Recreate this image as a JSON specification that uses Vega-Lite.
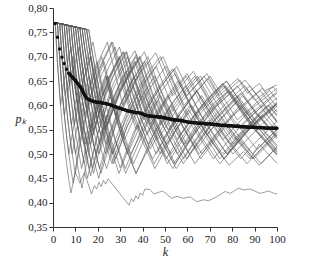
{
"$schema":"https://vega.github.io/schema/vega-lite/v6.json",
"width":224,"height":219,"autosize":"none",
"padding":{"left":53,"top":8,"right":47,"bottom":33},
"background":"white",
"config":{"view":{"stroke":null},"axis":{"labelFont":"Liberation Serif","titleFont":"Liberation Serif","labelColor":"#222","domainColor":"#333","tickColor":"#333","grid":false,"labelFontSize":11}},
"datasets":{
"g":[
{"s":1,"k":1,"p":0.770},{"s":1,"k":2,"p":0.688},{"s":1,"k":3,"p":0.622},{"s":1,"k":4,"p":0.567},{"s":1,"k":5,"p":0.522},{"s":1,"k":6,"p":0.483},{"s":1,"k":7,"p":0.449},{"s":1,"k":8,"p":0.420},{"s":1,"k":10,"p":0.462},{"s":1,"k":12,"p":0.440},{"s":1,"k":14,"p":0.462},{"s":1,"k":17.2,"p":0.418},{"s":1,"k":18.5,"p":0.435},{"s":1,"k":19.5,"p":0.428},{"s":1,"k":20.5,"p":0.442},{"s":1,"k":21.5,"p":0.433},{"s":1,"k":22.5,"p":0.446},{"s":1,"k":23.5,"p":0.438},{"s":1,"k":24.6,"p":0.449},{"s":1,"k":33.9,"p":0.395},{"s":1,"k":35,"p":0.408},{"s":1,"k":36,"p":0.402},{"s":1,"k":37,"p":0.414},{"s":1,"k":38,"p":0.408},{"s":1,"k":39,"p":0.420},{"s":1,"k":40,"p":0.415},{"s":1,"k":41,"p":0.428},{"s":1,"k":43.3,"p":0.427},{"s":1,"k":45,"p":0.418},{"s":1,"k":47,"p":0.421},{"s":1,"k":49,"p":0.424},{"s":1,"k":53,"p":0.409},{"s":1,"k":55.3,"p":0.413},{"s":1,"k":58.2,"p":0.409},{"s":1,"k":61.2,"p":0.412},{"s":1,"k":64.2,"p":0.402},{"s":1,"k":67.2,"p":0.406},{"s":1,"k":69.4,"p":0.404},{"s":1,"k":73.1,"p":0.412},{"s":1,"k":76.9,"p":0.423},{"s":1,"k":79.1,"p":0.419},{"s":1,"k":82.8,"p":0.430},{"s":1,"k":85,"p":0.426},{"s":1,"k":88,"p":0.428},{"s":1,"k":92.5,"p":0.419},{"s":1,"k":96.2,"p":0.424},{"s":1,"k":99.2,"p":0.418},{"s":1,"k":100,"p":0.419},
{"s":2,"k":1,"p":0.770},{"s":2,"k":2,"p":0.688},{"s":2,"k":3.38,"p":0.600},{"s":2,"k":5,"p":0.652},{"s":2,"k":8,"p":0.720},{"s":2,"k":10,"p":0.637},{"s":2,"k":12,"p":0.572},{"s":2,"k":14.8,"p":0.500},{"s":2,"k":20,"p":0.595},{"s":2,"k":25,"p":0.658},{"s":2,"k":29.6,"p":0.700},{"s":2,"k":35,"p":0.610},{"s":2,"k":42.4,"p":0.520},{"s":2,"k":50,"p":0.584},{"s":2,"k":59,"p":0.640},{"s":2,"k":68,"p":0.563},{"s":2,"k":77.5,"p":0.500},{"s":2,"k":85,"p":0.540},{"s":2,"k":93.7,"p":0.580},{"s":2,"k":100,"p":0.546},
{"s":3,"k":1,"p":0.770},{"s":3,"k":2,"p":0.769},{"s":3,"k":3,"p":0.695},{"s":3,"k":4,"p":0.634},{"s":3,"k":5,"p":0.583},{"s":3,"k":6,"p":0.539},{"s":3,"k":7,"p":0.502},{"s":3,"k":8,"p":0.469},{"s":3,"k":9.03,"p":0.440},{"s":3,"k":12,"p":0.526},{"s":3,"k":15,"p":0.589},{"s":3,"k":18,"p":0.638},{"s":3,"k":22,"p":0.687},{"s":3,"k":26.7,"p":0.730},{"s":3,"k":30,"p":0.665},{"s":3,"k":35,"p":0.587},{"s":3,"k":40,"p":0.525},{"s":3,"k":45.5,"p":0.470},{"s":3,"k":55,"p":0.550},{"s":3,"k":66.4,"p":0.620},{"s":3,"k":80.6,"p":0.520},{"s":3,"k":90,"p":0.566},{"s":3,"k":100,"p":0.607},
{"s":4,"k":1,"p":0.770},{"s":4,"k":2,"p":0.769},{"s":4,"k":3,"p":0.695},{"s":4,"k":4,"p":0.634},{"s":4,"k":5.06,"p":0.580},{"s":4,"k":7,"p":0.637},{"s":4,"k":8.95,"p":0.680},{"s":4,"k":11,"p":0.604},{"s":4,"k":13,"p":0.545},{"s":4,"k":16.26,"p":0.470},{"s":4,"k":20,"p":0.542},{"s":4,"k":25,"p":0.613},{"s":4,"k":30,"p":0.665},{"s":4,"k":36.6,"p":0.712},{"s":4,"k":42,"p":0.637},{"s":4,"k":48,"p":0.568},{"s":4,"k":55.5,"p":0.500},{"s":4,"k":63,"p":0.553},{"s":4,"k":71.2,"p":0.600},{"s":4,"k":80,"p":0.540},{"s":4,"k":88.9,"p":0.490},{"s":4,"k":100,"p":0.543},
{"s":5,"k":1,"p":0.770},{"s":5,"k":3,"p":0.768},{"s":5,"k":4,"p":0.701},{"s":5,"k":5,"p":0.644},{"s":5,"k":6,"p":0.596},{"s":5,"k":7,"p":0.555},{"s":5,"k":8,"p":0.519},{"s":5,"k":9,"p":0.487},{"s":5,"k":9.96,"p":0.460},{"s":5,"k":12,"p":0.517},{"s":5,"k":15,"p":0.582},{"s":5,"k":18,"p":0.631},{"s":5,"k":22.8,"p":0.690},{"s":5,"k":27,"p":0.607},{"s":5,"k":32,"p":0.530},{"s":5,"k":38,"p":0.593},{"s":5,"k":44,"p":0.640},{"s":5,"k":50.4,"p":0.680},{"s":5,"k":58,"p":0.601},{"s":5,"k":66,"p":0.536},{"s":5,"k":74.5,"p":0.480},{"s":5,"k":87,"p":0.549},{"s":5,"k":100,"p":0.603},
{"s":6,"k":1,"p":0.770},{"s":6,"k":3,"p":0.768},{"s":6,"k":4,"p":0.701},{"s":6,"k":5.48,"p":0.620},{"s":6,"k":8.9,"p":0.700},{"s":6,"k":11,"p":0.621},{"s":6,"k":13,"p":0.560},{"s":6,"k":14.56,"p":0.520},{"s":6,"k":19,"p":0.601},{"s":6,"k":23.6,"p":0.660},{"s":6,"k":28,"p":0.578},{"s":6,"k":33,"p":0.506},{"s":6,"k":37.1,"p":0.460},{"s":6,"k":45,"p":0.542},{"s":6,"k":54,"p":0.609},{"s":6,"k":63.2,"p":0.660},{"s":6,"k":72,"p":0.587},{"s":6,"k":80.6,"p":0.530},{"s":6,"k":96,"p":0.600},{"s":6,"k":100,"p":0.578},
{"s":7,"k":1,"p":0.770},{"s":7,"k":4,"p":0.767},{"s":7,"k":5,"p":0.705},{"s":7,"k":6,"p":0.653},{"s":7,"k":7,"p":0.607},{"s":7,"k":8,"p":0.568},{"s":7,"k":9,"p":0.533},{"s":7,"k":10,"p":0.503},{"s":7,"k":11,"p":0.475},{"s":7,"k":12,"p":0.451},{"s":7,"k":12.93,"p":0.430},{"s":7,"k":15,"p":0.483},{"s":7,"k":18,"p":0.544},{"s":7,"k":21,"p":0.592},{"s":7,"k":25,"p":0.642},{"s":7,"k":29,"p":0.682},{"s":7,"k":32.6,"p":0.710},{"s":7,"k":38,"p":0.625},{"s":7,"k":43,"p":0.563},{"s":7,"k":50.5,"p":0.490},{"s":7,"k":60,"p":0.562},{"s":7,"k":68,"p":0.608},{"s":7,"k":75.8,"p":0.645},{"s":7,"k":90,"p":0.551},{"s":7,"k":100,"p":0.500},
{"s":8,"k":1,"p":0.770},{"s":8,"k":4,"p":0.767},{"s":8,"k":5,"p":0.705},{"s":8,"k":6,"p":0.653},{"s":8,"k":7,"p":0.607},{"s":8,"k":8.21,"p":0.560},{"s":8,"k":10,"p":0.605},{"s":8,"k":12.8,"p":0.660},{"s":8,"k":16,"p":0.570},{"s":8,"k":19.3,"p":0.500},{"s":8,"k":24,"p":0.575},{"s":8,"k":30,"p":0.644},{"s":8,"k":37.05,"p":0.700},{"s":8,"k":42,"p":0.630},{"s":8,"k":48.2,"p":0.560},{"s":8,"k":56,"p":0.614},{"s":8,"k":64.5,"p":0.660},{"s":8,"k":72,"p":0.598},{"s":8,"k":82,"p":0.531},{"s":8,"k":92.1,"p":0.477},{"s":8,"k":100,"p":0.515},
{"s":9,"k":1,"p":0.770},{"s":9,"k":5,"p":0.766},{"s":9,"k":6,"p":0.709},{"s":9,"k":7,"p":0.660},{"s":9,"k":8,"p":0.617},{"s":9,"k":9,"p":0.579},{"s":9,"k":10,"p":0.546},{"s":9,"k":11,"p":0.516},{"s":9,"k":12,"p":0.490},{"s":9,"k":12.8,"p":0.470},{"s":9,"k":15,"p":0.522},{"s":9,"k":18,"p":0.578},{"s":9,"k":21,"p":0.623},{"s":9,"k":24.1,"p":0.660},{"s":9,"k":28,"p":0.587},{"s":9,"k":32,"p":0.528},{"s":9,"k":35.9,"p":0.480},{"s":9,"k":42,"p":0.544},{"s":9,"k":50,"p":0.608},{"s":9,"k":55,"p":0.639},{"s":9,"k":59.8,"p":0.665},{"s":9,"k":72,"p":0.563},{"s":9,"k":83.8,"p":0.490},{"s":9,"k":90,"p":0.522},{"s":9,"k":100,"p":0.567},
{"s":10,"k":1,"p":0.770},{"s":10,"k":5,"p":0.766},{"s":10,"k":6,"p":0.709},{"s":10,"k":7.44,"p":0.640},{"s":10,"k":9,"p":0.674},{"s":10,"k":11.7,"p":0.720},{"s":10,"k":15,"p":0.613},{"s":10,"k":18,"p":0.540},{"s":10,"k":22,"p":0.602},{"s":10,"k":27,"p":0.660},{"s":10,"k":32.9,"p":0.710},{"s":10,"k":38,"p":0.631},{"s":10,"k":44,"p":0.557},{"s":10,"k":49,"p":0.508},{"s":10,"k":53.5,"p":0.470},{"s":10,"k":62,"p":0.535},{"s":10,"k":72,"p":0.593},{"s":10,"k":82.3,"p":0.640},{"s":10,"k":91,"p":0.583},{"s":10,"k":100,"p":0.535},
{"s":11,"k":1,"p":0.770},{"s":11,"k":6,"p":0.765},{"s":11,"k":7,"p":0.712},{"s":11,"k":8,"p":0.666},{"s":11,"k":9,"p":0.625},{"s":11,"k":10,"p":0.589},{"s":11,"k":11,"p":0.557},{"s":11,"k":12,"p":0.528},{"s":11,"k":13,"p":0.503},{"s":11,"k":13.96,"p":0.480},{"s":11,"k":17,"p":0.545},{"s":11,"k":20,"p":0.595},{"s":11,"k":25,"p":0.657},{"s":11,"k":29.6,"p":0.700},{"s":11,"k":36,"p":0.597},{"s":11,"k":43.4,"p":0.510},{"s":11,"k":52,"p":0.581},{"s":11,"k":61,"p":0.636},{"s":11,"k":65.8,"p":0.660},{"s":11,"k":78,"p":0.566},{"s":11,"k":89.2,"p":0.500},{"s":11,"k":100,"p":0.550},
{"s":12,"k":1,"p":0.770},{"s":12,"k":6,"p":0.765},{"s":12,"k":7,"p":0.712},{"s":12,"k":8,"p":0.666},{"s":12,"k":9,"p":0.625},{"s":12,"k":10,"p":0.589},{"s":12,"k":11.24,"p":0.550},{"s":12,"k":15,"p":0.626},{"s":12,"k":19.66,"p":0.690},{"s":12,"k":24,"p":0.595},{"s":12,"k":28,"p":0.527},{"s":12,"k":32.3,"p":0.470},{"s":12,"k":40,"p":0.556},{"s":12,"k":46.6,"p":0.610},{"s":12,"k":53,"p":0.545},{"s":12,"k":59.8,"p":0.490},{"s":12,"k":72,"p":0.568},{"s":12,"k":87.8,"p":0.640},{"s":12,"k":100,"p":0.567},
{"s":13,"k":1,"p":0.770},{"s":13,"k":7,"p":0.764},{"s":13,"k":8,"p":0.714},{"s":13,"k":9,"p":0.671},{"s":13,"k":10,"p":0.632},{"s":13,"k":11,"p":0.598},{"s":13,"k":12,"p":0.567},{"s":13,"k":13,"p":0.539},{"s":13,"k":14,"p":0.514},{"s":13,"k":15,"p":0.491},{"s":13,"k":16.8,"p":0.455},{"s":13,"k":20,"p":0.519},{"s":13,"k":25,"p":0.593},{"s":13,"k":30,"p":0.648},{"s":13,"k":37.3,"p":0.705},{"s":13,"k":42,"p":0.638},{"s":13,"k":48,"p":0.569},{"s":13,"k":53,"p":0.522},{"s":13,"k":58.2,"p":0.480},{"s":13,"k":66,"p":0.535},{"s":13,"k":74,"p":0.581},{"s":13,"k":82.4,"p":0.620},{"s":13,"k":91,"p":0.566},{"s":13,"k":100,"p":0.518},
{"s":14,"k":1,"p":0.770},{"s":14,"k":7,"p":0.764},{"s":14,"k":8,"p":0.714},{"s":14,"k":9,"p":0.671},{"s":14,"k":10,"p":0.632},{"s":14,"k":10.94,"p":0.600},{"s":14,"k":14,"p":0.657},{"s":14,"k":17.05,"p":0.700},{"s":14,"k":20,"p":0.625},{"s":14,"k":23,"p":0.563},{"s":14,"k":26.8,"p":0.500},{"s":14,"k":32,"p":0.565},{"s":14,"k":38,"p":0.623},{"s":14,"k":46.1,"p":0.680},{"s":14,"k":52,"p":0.612},{"s":14,"k":58,"p":0.556},{"s":14,"k":65.3,"p":0.500},{"s":14,"k":83.5,"p":0.600},{"s":14,"k":100,"p":0.508},
{"s":15,"k":1,"p":0.770},{"s":15,"k":8,"p":0.763},{"s":15,"k":9,"p":0.716},{"s":15,"k":10,"p":0.675},{"s":15,"k":11,"p":0.639},{"s":15,"k":12,"p":0.606},{"s":15,"k":13,"p":0.576},{"s":15,"k":14,"p":0.549},{"s":15,"k":15,"p":0.525},{"s":15,"k":16,"p":0.502},{"s":15,"k":17,"p":0.482},{"s":15,"k":18.1,"p":0.460},{"s":15,"k":22,"p":0.531},{"s":15,"k":26,"p":0.587},{"s":15,"k":30,"p":0.631},{"s":15,"k":34,"p":0.667},{"s":15,"k":38.6,"p":0.700},{"s":15,"k":44,"p":0.626},{"s":15,"k":50,"p":0.561},{"s":15,"k":58.3,"p":0.490},{"s":15,"k":68,"p":0.556},{"s":15,"k":77,"p":0.603},{"s":15,"k":85.6,"p":0.640},{"s":15,"k":100,"p":0.554},
{"s":16,"k":1,"p":0.770},{"s":16,"k":8,"p":0.763},{"s":16,"k":9,"p":0.716},{"s":16,"k":10,"p":0.675},{"s":16,"k":11,"p":0.639},{"s":16,"k":12,"p":0.606},{"s":16,"k":13,"p":0.576},{"s":16,"k":14,"p":0.549},{"s":16,"k":15.2,"p":0.520},{"s":16,"k":20,"p":0.604},{"s":16,"k":24.5,"p":0.660},{"s":16,"k":30,"p":0.563},{"s":16,"k":34.7,"p":0.500},{"s":16,"k":48,"p":0.620},{"s":16,"k":58.65,"p":0.520},{"s":16,"k":68,"p":0.580},{"s":16,"k":78.3,"p":0.630},{"s":16,"k":90,"p":0.554},{"s":16,"k":100,"p":0.503},
{"s":17,"k":1,"p":0.770},{"s":17,"k":9,"p":0.762},{"s":17,"k":10,"p":0.718},{"s":17,"k":11,"p":0.679},{"s":17,"k":12,"p":0.644},{"s":17,"k":13,"p":0.613},{"s":17,"k":14,"p":0.584},{"s":17,"k":16,"p":0.534},{"s":17,"k":18,"p":0.492},{"s":17,"k":20.4,"p":0.450},{"s":17,"k":25,"p":0.529},{"s":17,"k":30,"p":0.592},{"s":17,"k":35,"p":0.640},{"s":17,"k":41.9,"p":0.690},{"s":17,"k":48,"p":0.614},{"s":17,"k":55,"p":0.545},{"s":17,"k":63.4,"p":0.480},{"s":17,"k":74,"p":0.548},{"s":17,"k":84.6,"p":0.600},{"s":17,"k":100,"p":0.514},
{"s":18,"k":1,"p":0.770},{"s":18,"k":10,"p":0.761},{"s":18,"k":11,"p":0.720},{"s":18,"k":12,"p":0.683},{"s":18,"k":13,"p":0.649},{"s":18,"k":14,"p":0.619},{"s":18,"k":16,"p":0.566},{"s":18,"k":18,"p":0.521},{"s":18,"k":20.8,"p":0.470},{"s":18,"k":25,"p":0.539},{"s":18,"k":30,"p":0.601},{"s":18,"k":36,"p":0.656},{"s":18,"k":42.4,"p":0.700},{"s":18,"k":50,"p":0.607},{"s":18,"k":59.6,"p":0.520},{"s":18,"k":72,"p":0.595},{"s":18,"k":85.8,"p":0.652},{"s":18,"k":100,"p":0.568},
{"s":19,"k":1,"p":0.770},{"s":19,"k":11,"p":0.760},{"s":19,"k":12,"p":0.721},{"s":19,"k":13,"p":0.685},{"s":19,"k":14,"p":0.653},{"s":19,"k":16,"p":0.598},{"s":19,"k":18,"p":0.551},{"s":19,"k":20.6,"p":0.500},{"s":19,"k":25,"p":0.568},{"s":19,"k":30,"p":0.626},{"s":19,"k":35,"p":0.670},{"s":19,"k":40.8,"p":0.710},{"s":19,"k":48,"p":0.618},{"s":19,"k":55,"p":0.548},{"s":19,"k":61,"p":0.500},{"s":19,"k":72,"p":0.569},{"s":19,"k":83.8,"p":0.625},{"s":19,"k":100,"p":0.531},
{"s":20,"k":1,"p":0.770},{"s":20,"k":12,"p":0.759},{"s":20,"k":13,"p":0.722},{"s":20,"k":14,"p":0.688},{"s":20,"k":16,"p":0.629},{"s":20,"k":18,"p":0.580},{"s":20,"k":20,"p":0.537},{"s":20,"k":22,"p":0.501},{"s":20,"k":23.9,"p":0.470},{"s":20,"k":28,"p":0.531},{"s":20,"k":33,"p":0.589},{"s":20,"k":38,"p":0.634},{"s":20,"k":43,"p":0.671},{"s":20,"k":47.9,"p":0.700},{"s":20,"k":55,"p":0.620},{"s":20,"k":62,"p":0.558},{"s":20,"k":71.6,"p":0.490},{"s":20,"k":85,"p":0.564},{"s":20,"k":100,"p":0.625},
{"s":21,"k":1,"p":0.770},{"s":21,"k":13,"p":0.758},{"s":21,"k":14,"p":0.723},{"s":21,"k":16,"p":0.661},{"s":21,"k":18,"p":0.609},{"s":21,"k":20,"p":0.564},{"s":21,"k":23.5,"p":0.500},{"s":21,"k":30,"p":0.586},{"s":21,"k":38.1,"p":0.660},{"s":21,"k":45,"p":0.573},{"s":21,"k":52.7,"p":0.500},{"s":21,"k":65,"p":0.585},{"s":21,"k":76,"p":0.640},{"s":21,"k":88,"p":0.560},{"s":21,"k":100,"p":0.497},
{"s":22,"k":1,"p":0.770},{"s":22,"k":14,"p":0.757},{"s":22,"k":15,"p":0.723},{"s":22,"k":17,"p":0.664},{"s":22,"k":20,"p":0.591},{"s":22,"k":23.75,"p":0.520},{"s":22,"k":30,"p":0.600},{"s":22,"k":35,"p":0.647},{"s":22,"k":40.8,"p":0.690},{"s":22,"k":48,"p":0.601},{"s":22,"k":55.4,"p":0.530},{"s":22,"k":66,"p":0.598},{"s":22,"k":75.75,"p":0.645},{"s":22,"k":88,"p":0.562},{"s":22,"k":100,"p":0.499},
{"s":23,"k":1,"p":0.770},{"s":23,"k":15,"p":0.756},{"s":23,"k":16,"p":0.724},{"s":23,"k":18,"p":0.667},{"s":23,"k":20,"p":0.618},{"s":23,"k":23.4,"p":0.550},{"s":23,"k":30,"p":0.629},{"s":23,"k":35.9,"p":0.680},{"s":23,"k":42,"p":0.596},{"s":23,"k":48,"p":0.531},{"s":23,"k":53.9,"p":0.480},{"s":23,"k":66,"p":0.566},{"s":23,"k":78.75,"p":0.630},{"s":23,"k":100,"p":0.505},
{"s":24,"k":1,"p":0.770},{"s":24,"k":16,"p":0.755},{"s":24,"k":17,"p":0.724},{"s":24,"k":19,"p":0.669},{"s":24,"k":21,"p":0.622},{"s":24,"k":23,"p":0.581},{"s":24,"k":26,"p":0.529},{"s":24,"k":30,"p":0.472},{"s":24,"k":36,"p":0.545},{"s":24,"k":42,"p":0.600},{"s":24,"k":48,"p":0.643},{"s":24,"k":53.4,"p":0.675},{"s":24,"k":64,"p":0.575},{"s":24,"k":76.4,"p":0.490},{"s":24,"k":88,"p":0.552},{"s":24,"k":100,"p":0.602},
{"s":25,"k":1,"p":0.770},{"s":25,"k":9,"p":0.762},{"s":25,"k":10,"p":0.718},{"s":25,"k":12,"p":0.644},{"s":25,"k":14.15,"p":0.580},{"s":25,"k":20,"p":0.670},{"s":25,"k":26.1,"p":0.730},{"s":25,"k":31,"p":0.637},{"s":25,"k":37.1,"p":0.550},{"s":25,"k":45,"p":0.618},{"s":25,"k":54.2,"p":0.675},{"s":25,"k":59.6,"p":0.620},{"s":25,"k":68.7,"p":0.665},{"s":25,"k":74.2,"p":0.620},{"s":25,"k":82.5,"p":0.655},{"s":25,"k":86.8,"p":0.625},{"s":25,"k":92.1,"p":0.645},{"s":25,"k":94.5,"p":0.630},{"s":25,"k":100,"p":0.642},
{"s":26,"k":1,"p":0.770},{"s":26,"k":11,"p":0.760},{"s":26,"k":12,"p":0.721},{"s":26,"k":13,"p":0.685},{"s":26,"k":15.15,"p":0.620},{"s":26,"k":20,"p":0.687},{"s":26,"k":24.3,"p":0.730},{"s":26,"k":31.2,"p":0.600},{"s":26,"k":38,"p":0.660},{"s":26,"k":45.8,"p":0.708},{"s":26,"k":53.5,"p":0.620},{"s":26,"k":62.7,"p":0.670},{"s":26,"k":70.9,"p":0.600},{"s":26,"k":83.4,"p":0.652},{"s":26,"k":90.1,"p":0.610},{"s":26,"k":98.2,"p":0.638},{"s":26,"k":100,"p":0.629},
{"s":27,"k":1,"p":0.770},{"s":27,"k":13,"p":0.758},{"s":27,"k":14,"p":0.723},{"s":27,"k":16,"p":0.661},{"s":27,"k":19.26,"p":0.580},{"s":27,"k":25,"p":0.654},{"s":27,"k":31.2,"p":0.710},{"s":27,"k":35,"p":0.646},{"s":27,"k":40.7,"p":0.570},{"s":27,"k":48,"p":0.627},{"s":27,"k":54.3,"p":0.665},{"s":27,"k":63.3,"p":0.580},{"s":27,"k":77.5,"p":0.650},{"s":27,"k":84.6,"p":0.600},{"s":27,"k":93.4,"p":0.635},{"s":27,"k":100,"p":0.596},
{"s":28,"k":1,"p":0.770},{"s":28,"k":15,"p":0.756},{"s":28,"k":16,"p":0.724},{"s":28,"k":17,"p":0.694},{"s":28,"k":19.9,"p":0.620},{"s":28,"k":25,"p":0.680},{"s":28,"k":29.7,"p":0.720},{"s":28,"k":35,"p":0.629},{"s":28,"k":42,"p":0.540},{"s":28,"k":50,"p":0.604},{"s":28,"k":59.5,"p":0.660},{"s":28,"k":68,"p":0.586},{"s":28,"k":75.9,"p":0.530},{"s":28,"k":88,"p":0.590},{"s":28,"k":100,"p":0.635},
{"s":29,"k":1,"p":0.770},{"s":29,"k":10,"p":0.761},{"s":29,"k":11,"p":0.720},{"s":29,"k":12.66,"p":0.660},{"s":29,"k":17.86,"p":0.730},{"s":29,"k":22.3,"p":0.620},{"s":29,"k":27,"p":0.672},{"s":29,"k":31.6,"p":0.710},{"s":29,"k":36,"p":0.638},{"s":29,"k":40.3,"p":0.580},{"s":29,"k":48,"p":0.638},{"s":29,"k":55.2,"p":0.680},{"s":29,"k":66,"p":0.580},{"s":29,"k":77.7,"p":0.500},{"s":29,"k":90,"p":0.563},{"s":29,"k":100,"p":0.604},
{"s":30,"k":1,"p":0.770},{"s":30,"k":12,"p":0.759},{"s":30,"k":13,"p":0.722},{"s":30,"k":14,"p":0.688},{"s":30,"k":16,"p":0.629},{"s":30,"k":17.1,"p":0.600},{"s":30,"k":22,"p":0.666},{"s":30,"k":27.65,"p":0.720},{"s":30,"k":33,"p":0.625},{"s":30,"k":39,"p":0.544},{"s":30,"k":45.2,"p":0.480},{"s":30,"k":53,"p":0.545},{"s":30,"k":61,"p":0.600},{"s":30,"k":70,"p":0.530},{"s":30,"k":78.6,"p":0.477},{"s":30,"k":85,"p":0.505},{"s":30,"k":88,"p":0.490},{"s":30,"k":92,"p":0.520},{"s":30,"k":100,"p":0.481},
{"s":31,"k":1,"p":0.770},{"s":31,"k":3,"p":0.768},{"s":31,"k":4,"p":0.701},{"s":31,"k":5,"p":0.644},{"s":31,"k":6,"p":0.596},{"s":31,"k":7,"p":0.555},{"s":31,"k":8.57,"p":0.500},{"s":31,"k":12,"p":0.588},{"s":31,"k":16.1,"p":0.660},{"s":31,"k":20.3,"p":0.560},{"s":31,"k":27,"p":0.646},{"s":31,"k":33.2,"p":0.700},{"s":31,"k":43.35,"p":0.560},{"s":31,"k":51.4,"p":0.620},{"s":31,"k":58,"p":0.557},{"s":31,"k":64.1,"p":0.510},{"s":31,"k":72,"p":0.559},{"s":31,"k":82.4,"p":0.610},{"s":31,"k":90.4,"p":0.560},{"s":31,"k":100,"p":0.599},
{"s":32,"k":1,"p":0.770},{"s":32,"k":5,"p":0.766},{"s":32,"k":6,"p":0.709},{"s":32,"k":7,"p":0.660},{"s":32,"k":8,"p":0.617},{"s":32,"k":9.56,"p":0.560},{"s":32,"k":13.3,"p":0.640},{"s":32,"k":16,"p":0.567},{"s":32,"k":18,"p":0.522},{"s":32,"k":21.4,"p":0.460},{"s":32,"k":28,"p":0.560},{"s":32,"k":35.85,"p":0.640},{"s":32,"k":42,"p":0.560},{"s":32,"k":48,"p":0.500},{"s":32,"k":61.8,"p":0.600},{"s":32,"k":75.6,"p":0.500},{"s":32,"k":91.4,"p":0.580},{"s":32,"k":100,"p":0.534},
{"s":33,"k":1,"p":0.770},{"s":33,"k":7,"p":0.764},{"s":33,"k":8,"p":0.714},{"s":33,"k":9,"p":0.671},{"s":33,"k":10,"p":0.632},{"s":33,"k":11,"p":0.598},{"s":33,"k":12,"p":0.567},{"s":33,"k":13,"p":0.539},{"s":33,"k":13.76,"p":0.520},{"s":33,"k":19.3,"p":0.620},{"s":33,"k":23,"p":0.544},{"s":33,"k":27.1,"p":0.480},{"s":33,"k":33,"p":0.556},{"s":33,"k":39,"p":0.613},{"s":33,"k":45.4,"p":0.660},{"s":33,"k":57.1,"p":0.540},{"s":33,"k":68,"p":0.607},{"s":33,"k":77.4,"p":0.650},{"s":33,"k":87.6,"p":0.580},{"s":33,"k":100,"p":0.628},
{"s":34,"k":1,"p":0.770},{"s":34,"k":9,"p":0.762},{"s":34,"k":10,"p":0.718},{"s":34,"k":11,"p":0.679},{"s":34,"k":12,"p":0.644},{"s":34,"k":13,"p":0.613},{"s":34,"k":14,"p":0.584},{"s":34,"k":16.6,"p":0.520},{"s":34,"k":21.4,"p":0.600},{"s":34,"k":27.9,"p":0.490},{"s":34,"k":33,"p":0.555},{"s":34,"k":39.9,"p":0.620},{"s":34,"k":46,"p":0.549},{"s":34,"k":55,"p":0.470},{"s":34,"k":69.5,"p":0.570},{"s":34,"k":80.3,"p":0.500},{"s":34,"k":100,"p":0.592},
{"s":35,"k":1,"p":0.770},{"s":35,"k":11,"p":0.760},{"s":35,"k":12,"p":0.721},{"s":35,"k":13,"p":0.685},{"s":35,"k":14,"p":0.653},{"s":35,"k":16,"p":0.598},{"s":35,"k":18.03,"p":0.550},{"s":35,"k":24.4,"p":0.640},{"s":35,"k":29,"p":0.559},{"s":35,"k":33.3,"p":0.500},{"s":35,"k":41,"p":0.580},{"s":35,"k":51.1,"p":0.480},{"s":35,"k":64,"p":0.574},{"s":35,"k":77.1,"p":0.640},{"s":35,"k":89.2,"p":0.560},{"s":35,"k":100,"p":0.604},
{"s":36,"k":1,"p":0.770},{"s":36,"k":12,"p":0.759},{"s":36,"k":13,"p":0.722},{"s":36,"k":14,"p":0.688},{"s":36,"k":16,"p":0.629},{"s":36,"k":18,"p":0.580},{"s":36,"k":20.9,"p":0.520},{"s":36,"k":25,"p":0.581},{"s":36,"k":30,"p":0.637},{"s":36,"k":36.4,"p":0.690},{"s":36,"k":43,"p":0.600},{"s":36,"k":50.7,"p":0.520},{"s":36,"k":60.6,"p":0.590},{"s":36,"k":74.5,"p":0.490},{"s":36,"k":92,"p":0.580},{"s":36,"k":100,"p":0.537},
{"s":37,"k":1,"p":0.770},{"s":37,"k":14,"p":0.757},{"s":37,"k":15,"p":0.723},{"s":37,"k":17,"p":0.664},{"s":37,"k":20,"p":0.591},{"s":37,"k":23,"p":0.527},{"s":37,"k":26.35,"p":0.480},{"s":37,"k":33,"p":0.566},{"s":37,"k":40,"p":0.630},{"s":37,"k":48.9,"p":0.530},{"s":37,"k":64.1,"p":0.630},{"s":37,"k":79.2,"p":0.520},{"s":37,"k":96.5,"p":0.600},{"s":37,"k":100,"p":0.580},
{"s":38,"k":1,"p":0.770},{"s":38,"k":16,"p":0.755},{"s":38,"k":17,"p":0.724},{"s":38,"k":19,"p":0.669},{"s":38,"k":21,"p":0.622},{"s":38,"k":24.15,"p":0.560},{"s":38,"k":30,"p":0.629},{"s":38,"k":38.9,"p":0.700},{"s":38,"k":45,"p":0.618},{"s":38,"k":51.5,"p":0.550},{"s":38,"k":64.2,"p":0.630},{"s":38,"k":76,"p":0.541},{"s":38,"k":86.6,"p":0.480},{"s":38,"k":100,"p":0.545},
{"s":39,"k":1,"p":0.770},{"s":39,"k":4,"p":0.767},{"s":39,"k":5,"p":0.705},{"s":39,"k":6,"p":0.653},{"s":39,"k":7,"p":0.607},{"s":39,"k":8,"p":0.568},{"s":39,"k":9,"p":0.533},{"s":39,"k":10.09,"p":0.500},{"s":39,"k":14,"p":0.591},{"s":39,"k":17,"p":0.642},{"s":39,"k":21.75,"p":0.700},{"s":39,"k":27.8,"p":0.580},{"s":39,"k":36.1,"p":0.660},{"s":39,"k":46.8,"p":0.530},{"s":39,"k":57,"p":0.605},{"s":39,"k":67.5,"p":0.660},{"s":39,"k":82.5,"p":0.550},{"s":39,"k":93.7,"p":0.600},{"s":39,"k":100,"p":0.565},
{"s":40,"k":1,"p":0.770},{"s":40,"k":6,"p":0.765},{"s":40,"k":7,"p":0.712},{"s":40,"k":8,"p":0.666},{"s":40,"k":9,"p":0.625},{"s":40,"k":10,"p":0.589},{"s":40,"k":11,"p":0.557},{"s":40,"k":12,"p":0.528},{"s":40,"k":13,"p":0.503},{"s":40,"k":14,"p":0.479},{"s":40,"k":15.38,"p":0.450},{"s":40,"k":20,"p":0.543},{"s":40,"k":25.6,"p":0.620},{"s":40,"k":31,"p":0.532},{"s":40,"k":37,"p":0.460},{"s":40,"k":52.5,"p":0.600},{"s":40,"k":65.9,"p":0.490},{"s":40,"k":77.6,"p":0.560},{"s":40,"k":89.7,"p":0.490},{"s":40,"k":100,"p":0.539},
{"s":41,"k":1,"p":0.770},{"s":41,"k":8,"p":0.763},{"s":41,"k":9,"p":0.716},{"s":41,"k":10,"p":0.675},{"s":41,"k":11,"p":0.639},{"s":41,"k":11.55,"p":0.620},{"s":41,"k":16.6,"p":0.700},{"s":41,"k":20,"p":0.613},{"s":41,"k":23.15,"p":0.550},{"s":41,"k":30,"p":0.632},{"s":41,"k":36.9,"p":0.690},{"s":41,"k":45.3,"p":0.580},{"s":41,"k":55.8,"p":0.650},{"s":41,"k":68.7,"p":0.540},{"s":41,"k":84.7,"p":0.620},{"s":41,"k":91,"p":0.580},{"s":41,"k":100,"p":0.615},
{"s":42,"k":1,"p":0.770},{"s":42,"k":10,"p":0.761},{"s":42,"k":11,"p":0.720},{"s":42,"k":12,"p":0.683},{"s":42,"k":13,"p":0.649},{"s":42,"k":14,"p":0.619},{"s":42,"k":16,"p":0.566},{"s":42,"k":16.7,"p":0.550},{"s":42,"k":20.4,"p":0.610},{"s":42,"k":25,"p":0.523},{"s":42,"k":29.5,"p":0.460},{"s":42,"k":37.9,"p":0.560},{"s":42,"k":44.4,"p":0.490},{"s":42,"k":56,"p":0.583},{"s":42,"k":69.2,"p":0.655},{"s":42,"k":80,"p":0.574},{"s":42,"k":91,"p":0.510},{"s":42,"k":100,"p":0.551},
{"s":43,"k":1,"p":0.770},{"s":43,"k":13,"p":0.758},{"s":43,"k":14,"p":0.723},{"s":43,"k":16,"p":0.661},{"s":43,"k":18,"p":0.609},{"s":43,"k":20,"p":0.564},{"s":43,"k":21.2,"p":0.540},{"s":43,"k":27,"p":0.617},{"s":43,"k":32.5,"p":0.670},{"s":43,"k":39,"p":0.576},{"s":43,"k":46.1,"p":0.500},{"s":43,"k":56.3,"p":0.580},{"s":43,"k":66.5,"p":0.500},{"s":43,"k":80,"p":0.577},{"s":43,"k":92.5,"p":0.630},{"s":43,"k":100,"p":0.586},
{"s":44,"k":1,"p":0.770},{"s":44,"k":15,"p":0.756},{"s":44,"k":16,"p":0.724},{"s":44,"k":18,"p":0.667},{"s":44,"k":20,"p":0.618},{"s":44,"k":23,"p":0.557},{"s":44,"k":26.5,"p":0.500},{"s":44,"k":33,"p":0.581},{"s":44,"k":40,"p":0.643},{"s":44,"k":49.1,"p":0.700},{"s":44,"k":58.5,"p":0.600},{"s":44,"k":70.1,"p":0.660},{"s":44,"k":82.3,"p":0.570},{"s":44,"k":96.8,"p":0.630},{"s":44,"k":100,"p":0.611},
{"s":45,"k":1,"p":0.770},{"s":45,"k":2,"p":0.769},{"s":45,"k":3,"p":0.695},{"s":45,"k":4,"p":0.634},{"s":45,"k":5,"p":0.583},{"s":45,"k":6,"p":0.539},{"s":45,"k":7.06,"p":0.500},{"s":45,"k":11.6,"p":0.620},{"s":45,"k":14,"p":0.550},{"s":45,"k":17.7,"p":0.470},{"s":45,"k":24.2,"p":0.580},{"s":45,"k":32.4,"p":0.460},{"s":45,"k":43.8,"p":0.580},{"s":45,"k":54.5,"p":0.480},{"s":45,"k":65.8,"p":0.560},{"s":45,"k":76.3,"p":0.490},{"s":45,"k":83.4,"p":0.530},{"s":45,"k":92.9,"p":0.480},{"s":45,"k":100,"p":0.514}
],
"m":[
{"k":1,"p":0.768},{"k":2,"p":0.740},{"k":3,"p":0.716},{"k":4,"p":0.699},{"k":5,"p":0.686},{"k":6,"p":0.674},{"k":7,"p":0.666},{"k":8,"p":0.661},{"k":9,"p":0.656},{"k":10,"p":0.651},{"k":11,"p":0.645},{"k":12,"p":0.639},{"k":13,"p":0.632},{"k":14,"p":0.622},{"k":15,"p":0.615},{"k":16,"p":0.612},{"k":17,"p":0.610},{"k":18,"p":0.608},{"k":19,"p":0.607},{"k":20,"p":0.606},{"k":21,"p":0.606},{"k":22,"p":0.605},{"k":23,"p":0.604},{"k":24,"p":0.603},{"k":25,"p":0.602},{"k":26,"p":0.600},{"k":27,"p":0.598},{"k":28,"p":0.597},{"k":29,"p":0.595},{"k":30,"p":0.594},{"k":31,"p":0.592},{"k":32,"p":0.591},{"k":33,"p":0.589},{"k":34,"p":0.588},{"k":35,"p":0.587},{"k":36,"p":0.586},{"k":37,"p":0.585},{"k":38,"p":0.585},{"k":39,"p":0.584},{"k":40,"p":0.582},{"k":41,"p":0.580},{"k":42,"p":0.579},{"k":43,"p":0.578},{"k":44,"p":0.578},{"k":45,"p":0.577},{"k":46,"p":0.577},{"k":47,"p":0.576},{"k":48,"p":0.576},{"k":49,"p":0.575},{"k":50,"p":0.574},{"k":51,"p":0.573},{"k":52,"p":0.572},{"k":53,"p":0.571},{"k":54,"p":0.570},{"k":55,"p":0.570},{"k":56,"p":0.569},{"k":57,"p":0.569},{"k":58,"p":0.568},{"k":59,"p":0.567},{"k":60,"p":0.566},{"k":61,"p":0.565},{"k":62,"p":0.565},{"k":63,"p":0.564},{"k":64,"p":0.564},{"k":65,"p":0.563},{"k":66,"p":0.563},{"k":67,"p":0.563},{"k":68,"p":0.562},{"k":69,"p":0.562},{"k":70,"p":0.562},{"k":71,"p":0.561},{"k":72,"p":0.561},{"k":73,"p":0.560},{"k":74,"p":0.560},{"k":75,"p":0.559},{"k":76,"p":0.559},{"k":77,"p":0.559},{"k":78,"p":0.558},{"k":79,"p":0.558},{"k":80,"p":0.558},{"k":81,"p":0.557},{"k":82,"p":0.557},{"k":83,"p":0.557},{"k":84,"p":0.556},{"k":85,"p":0.556},{"k":86,"p":0.556},{"k":87,"p":0.555},{"k":88,"p":0.555},{"k":89,"p":0.555},{"k":90,"p":0.555},{"k":91,"p":0.554},{"k":92,"p":0.554},{"k":93,"p":0.554},{"k":94,"p":0.554},{"k":95,"p":0.553},{"k":96,"p":0.553},{"k":97,"p":0.553},{"k":98,"p":0.553},{"k":99,"p":0.553},{"k":100,"p":0.553}
]},
"encoding":{
  "x":{"field":"k","type":"quantitative","scale":{"domain":[0,100],"nice":false,"zero":false},"axis":{"values":[0,10,20,30,40,50,60,70,80,90,100],"title":"k","titleFontStyle":"italic","titleFontWeight":"normal","titleFontSize":12,"titleColor":"#222","titlePadding":2,"tickSize":4,"labelPadding":2,"labelFlush":false}},
  "y":{"field":"p","type":"quantitative","scale":{"domain":[0.35,0.8],"nice":false,"zero":false},"axis":{"values":[0.35,0.4,0.45,0.5,0.55,0.6,0.65,0.7,0.75,0.8],"labelExpr":"replace(format(datum.value,'.2f'),'.',',')","title":"pₖ","titleFontStyle":"italic","titleFontWeight":"normal","titleFontSize":12,"titleColor":"#222","titleAngle":0,"titleX":-33,"titleY":110,"titleAlign":"center","titleBaseline":"middle","tickSize":4,"labelPadding":2}}
},
"layer":[
{"data":{"name":"g"},"mark":{"type":"line","stroke":"#5a5a5a","strokeWidth":0.6},"encoding":{"detail":{"field":"s","type":"nominal"}}},
{"data":{"name":"m"},"transform":[{"filter":"datum.k >= 7"}],"mark":{"type":"line","stroke":"#111","strokeWidth":3.3}},
{"data":{"name":"m"},"mark":{"type":"circle","color":"#111","size":12,"opacity":1}}
]
}
